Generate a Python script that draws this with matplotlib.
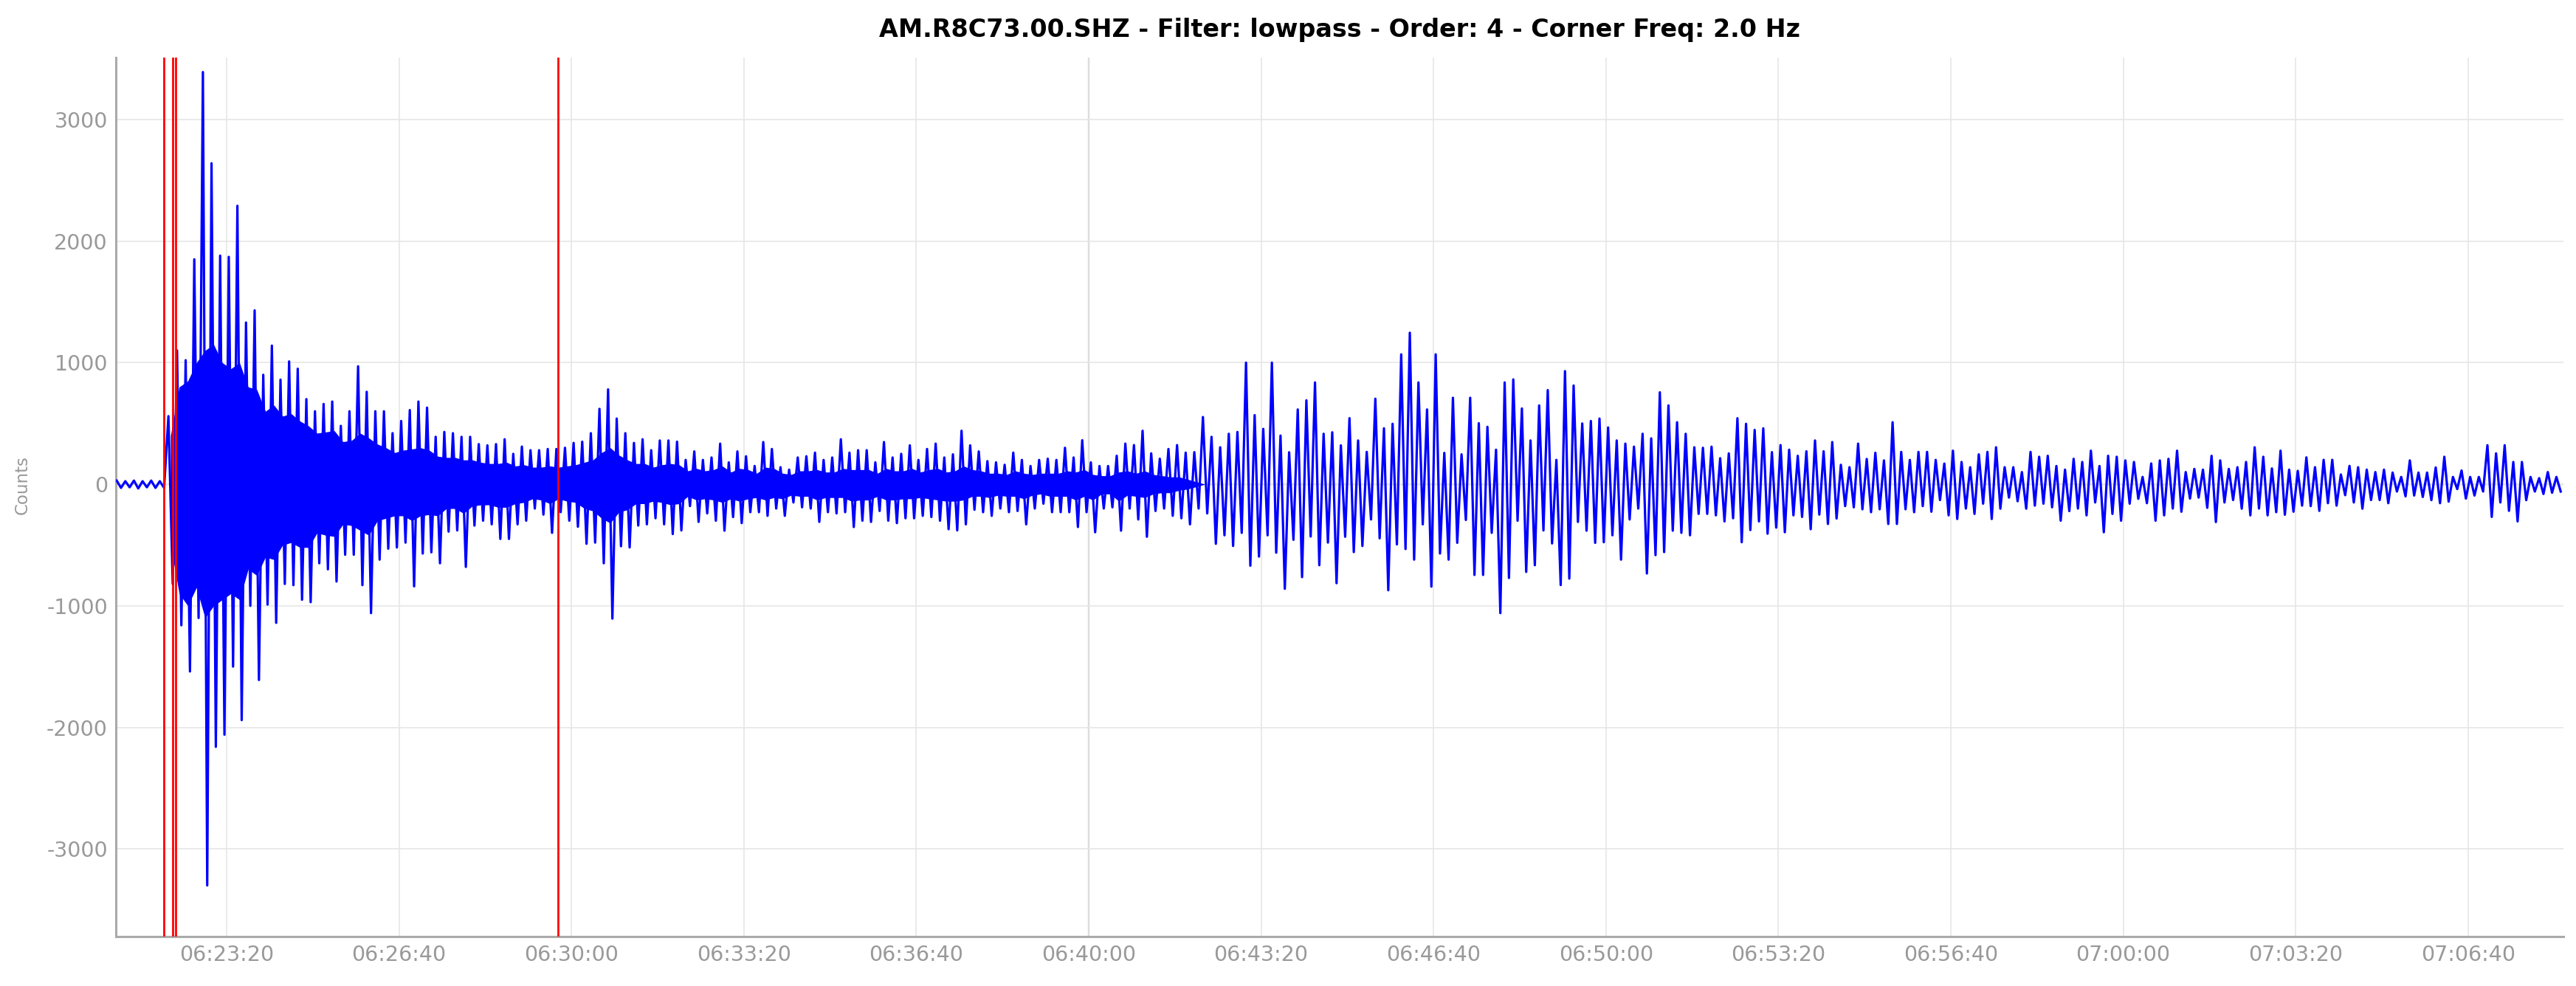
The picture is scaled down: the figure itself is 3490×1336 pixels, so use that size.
import numpy as np
import matplotlib
matplotlib.use('Agg')
import matplotlib.pyplot as plt
from matplotlib.ticker import MultipleLocator, FuncFormatter

plt.rcParams['axes.unicode_minus'] = False

def hms(s):
    h, m, sec = s.split(':')
    return int(h)*3600 + int(m)*60 + float(sec)

title = 'AM.R8C73.00.SHZ - Filter: lowpass - Order: 4 - Corner Freq: 2.0 Hz'

# 10 s bins starting 06:21:10, max / min counts in each bin
t_first = hms('06:21:10')
bin_s = 10
peak_hi = [
    30, 25, 30, 25, 30, 25, 560, 1100, 1020, 1850,
    3390, 2640, 1880, 1870, 2290, 1330, 1430, 900, 1140, 860,
    1010, 950, 700, 600, 660, 680, 480, 600, 970, 760,
    600, 600, 420, 520, 610, 680, 630, 390, 430, 420,
    390, 390, 330, 320, 330, 370, 250, 310, 280, 280,
    290, 290, 300, 340, 350, 420, 620, 780, 540, 420,
    340, 370, 280, 360, 360, 350, 200, 270, 200, 220,
    334, 180, 270, 230, 150, 347, 290, 140, 120, 220,
    230, 260, 200, 220, 370, 260, 280, 280, 180, 347,
    220, 250, 320, 200, 290, 334, 220, 246, 440, 320,
    270, 190, 180, 160, 260, 200, 150, 200, 210, 200,
    300, 220, 362, 180, 150, 150, 234, 334, 322, 440,
    254, 210, 290, 322, 260, 264, 553, 390, 304, 415,
    430, 1000, 568, 455, 1000, 400, 263, 615, 690, 837,
    415, 427, 320, 543, 360, 266, 703, 460, 497, 1068,
    1246, 837, 615, 1068, 258, 711, 246, 711, 502, 472,
    284, 837, 862, 623, 360, 648, 774, 200, 930, 812,
    500, 520, 540, 467, 360, 334, 309, 415, 377, 756,
    648, 510, 415, 304, 300, 309, 214, 254, 543, 497,
    447, 460, 264, 322, 284, 234, 271, 360, 271, 347,
    160, 140, 334, 208, 259, 196, 510, 266, 200, 266,
    266, 200, 170, 276, 183, 140, 246, 266, 304, 140,
    140, 100, 266, 226, 234, 150, 120, 209, 183, 276,
    150, 234, 226, 196, 183, 60, 171, 196, 209, 276,
    100, 126, 120, 234, 196, 126, 140, 183, 304, 226,
    130, 276, 120, 110, 221, 140, 201, 201, 80, 151,
    140, 120, 100, 120, 96, 60, 196, 96, 96, 138,
    226, 60, 113, 60, 60, 321, 254, 321, 183, 183,
    60, 50, 100, 60]
peak_lo = [
    -30, -25, -35, -25, -30, -30, -820, -1160, -1540, -1100,
    -3300, -2160, -2060, -1500, -1940, -1000, -1610, -990, -1140, -820,
    -830, -950, -970, -650, -700, -800, -580, -580, -830, -1060,
    -620, -530, -520, -480, -840, -570, -560, -650, -390, -380,
    -680, -340, -300, -330, -450, -450, -330, -300, -200, -250,
    -400, -230, -300, -350, -490, -480, -650, -1105, -510, -520,
    -340, -330, -280, -330, -410, -380, -180, -310, -240, -300,
    -382, -270, -320, -230, -230, -260, -200, -260, -150, -190,
    -200, -310, -230, -240, -230, -352, -300, -310, -220, -300,
    -320, -280, -280, -260, -270, -300, -370, -380, -330, -210,
    -230, -260, -200, -230, -220, -330, -200, -160, -230, -230,
    -230, -352, -230, -395, -200, -190, -382, -200, -290, -432,
    -220, -200, -260, -280, -330, -200, -240, -490, -420, -508,
    -400, -670, -595, -420, -563, -860, -457, -764, -430, -666,
    -480, -814, -432, -558, -508, -290, -445, -872, -495, -533,
    -620, -330, -842, -570, -620, -482, -294, -746, -746, -400,
    -1060, -771, -300, -721, -666, -380, -487, -829, -776, -310,
    -382, -482, -477, -420, -620, -290, -200, -734, -583, -558,
    -382, -400, -420, -244, -244, -256, -306, -280, -477, -377,
    -306, -407, -357, -395, -256, -269, -370, -250, -327, -282,
    -180, -190, -206, -230, -206, -327, -327, -206, -230, -180,
    -226, -130, -256, -286, -200, -244, -160, -286, -201, -110,
    -140, -201, -176, -160, -190, -300, -221, -200, -256, -150,
    -395, -244, -300, -160, -120, -156, -300, -256, -200, -226,
    -118, -110, -194, -311, -150, -130, -201, -256, -200, -256,
    -230, -251, -226, -176, -180, -219, -156, -176, -90, -150,
    -201, -130, -130, -156, -60, -100, -93, -105, -131, -156,
    -143, -40, -118, -93, -60, -269, -150, -219, -306, -131,
    -60, -80, -70, -60]

# solid (densely packed) band of the trace, same 10 s bins, from 06:22:10
core_from = hms('06:22:10')
core_hi = [
    400, 800, 850, 1000, 1100, 1150, 1000, 950, 1000, 800,
    780, 600, 650, 560, 580, 520, 480, 420, 430, 440,
    350, 360, 420, 380, 330, 300, 260, 280, 290, 300,
    280, 230, 220, 220, 200, 200, 180, 170, 170, 180,
    150, 160, 140, 140, 150, 140, 150, 160, 180, 200,
    260, 300, 240, 200, 170, 170, 140, 160, 170, 160,
    110, 130, 110, 120, 150, 100, 130, 120, 90, 140,
    130, 90, 80, 110, 110, 120, 100, 100, 130, 120,
    120, 120, 90, 130, 110, 110, 130, 100, 120, 130,
    100, 110, 150, 120, 110, 90, 90, 80, 110, 90,
    80, 90, 90, 90, 110, 100, 120, 80, 70, 70,
    100, 110, 90, 110, 80, 70, 60, 60, 40, 20,
    0]
core_lo = [
    -500, -900, -1000, -850, -1100, -1000, -950, -900, -950, -700,
    -750, -600, -620, -500, -480, -520, -520, -400, -420, -430,
    -330, -340, -380, -420, -300, -280, -260, -260, -300, -260,
    -250, -260, -200, -200, -240, -180, -170, -170, -190, -190,
    -160, -150, -120, -130, -160, -120, -140, -150, -200, -220,
    -280, -320, -230, -210, -160, -160, -140, -150, -170, -160,
    -100, -130, -120, -130, -150, -120, -140, -120, -110, -130,
    -110, -120, -90, -100, -100, -130, -110, -110, -110, -140,
    -130, -130, -100, -130, -130, -120, -120, -110, -120, -130,
    -140, -140, -130, -100, -100, -110, -90, -100, -100, -120,
    -90, -80, -100, -100, -100, -130, -100, -130, -80, -80,
    -140, -90, -100, -110, -80, -70, -70, -50, -40, -20,
    0]

picks = ['06:22:07.4', '06:22:17.3', '06:22:20.9', '06:29:44.8']
marker_line = '06:40:00'
x_range = ('06:21:11.6', '07:08:30.6')
y_range = (-3720, 3510)

def fmt_time(v, pos):
    v = int(round(v))
    return '%02d:%02d:%02d' % (v // 3600, (v % 3600) // 60, v % 60)

starts = t_first + bin_s*np.arange(len(peak_hi))
x = np.column_stack([starts + 2.5, starts + 7.5]).ravel()
y = np.column_stack([peak_hi, peak_lo]).ravel()
core_x = core_from + bin_s*np.arange(len(core_hi)) + 5

fig = plt.figure(figsize=(34.9, 13.36), dpi=100)
ax = fig.add_axes([0.045, 0.0502, 0.9501, 0.8915])

ax.grid(True, color='#e6e6e6', lw=1.2, zorder=0)
ax.axhline(0, color='#c9c9bd', lw=1.0, zorder=0.5)
ax.axvline(hms(marker_line), color='#b5b5b5', lw=1.6, zorder=1)

ax.fill_between(core_x, core_lo, core_hi, color='#0000ff', lw=0, zorder=2)
ax.plot(x, y, color='#0000ff', lw=2.3, zorder=3)
for p in picks:
    ax.axvline(hms(p), color='#ff0000', lw=2.0, zorder=4)

ax.set_xlim(hms(x_range[0]), hms(x_range[1]))
ax.set_ylim(*y_range)
ax.xaxis.set_major_locator(MultipleLocator(200))
ax.xaxis.set_major_formatter(FuncFormatter(fmt_time))
ax.yaxis.set_major_locator(MultipleLocator(1000))
ax.tick_params(length=0, labelsize=20.5, labelcolor='#999999')
ax.tick_params(axis='x', pad=8)
ax.tick_params(axis='y', pad=8)

for s in ['top', 'right']:
    ax.spines[s].set_visible(False)
for s in ['left', 'bottom']:
    ax.spines[s].set_color('#aaaaaa')
    ax.spines[s].set_linewidth(2.2)

ax.set_ylabel('Counts', fontsize=16.5, color='#999999')
ax.yaxis.set_label_coords(-0.0347, 0.514)
fig.text(0.5201, 0.970, title, ha='center', va='center', fontsize=24, fontweight='bold')

fig.savefig('out.png', dpi=100)
